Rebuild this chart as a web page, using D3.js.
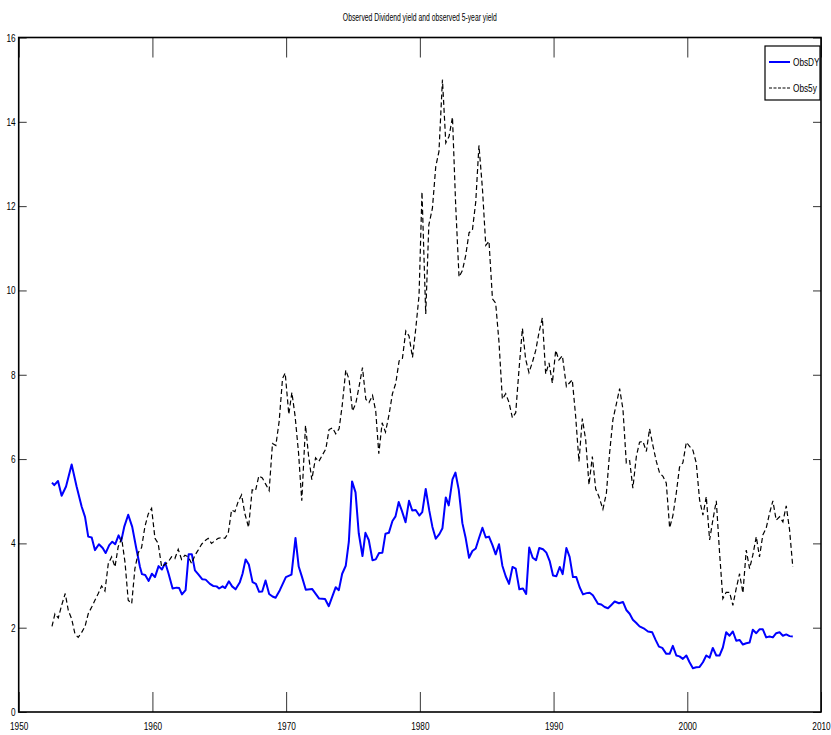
<!DOCTYPE html>
<html>
<head>
<meta charset="utf-8">
<script src="https://cdn.jsdelivr.net/npm/d3@7"></script>
<style>
  html, body { margin: 0; padding: 0; background: #fff; }
  svg { display: block; font-family: "Liberation Sans", Arial, sans-serif; }
</style>
</head>
<body>
<div id="chart"></div>
<script>
// Observed dividend yield vs observed 5-year yield (quarterly)

const dyYears = [
  1952.49, 1952.66, 1952.94, 1953.21, 1953.54, 1953.96, 1954.33, 1954.71, 1954.96, 1955.20,
  1955.46, 1955.70, 1956.00, 1956.28, 1956.50, 1956.77, 1957.00, 1957.22, 1957.47, 1957.67,
  1957.89, 1958.19, 1958.49, 1958.77, 1959.07, 1959.22, 1959.46, 1959.72, 1959.96, 1960.19,
  1960.46, 1960.71, 1960.96, 1961.21, 1961.51, 1961.81, 1962.00, 1962.21, 1962.48, 1962.71,
  1962.95, 1963.18, 1963.42, 1963.72, 1963.98, 1964.30, 1964.54, 1964.80, 1964.99, 1965.25,
  1965.44, 1965.72, 1965.96, 1966.22, 1966.54, 1966.74, 1966.97, 1967.21, 1967.49, 1967.74,
  1967.98, 1968.21, 1968.46, 1968.73, 1968.98, 1969.21, 1969.53, 1969.98, 1970.40, 1970.70,
  1970.94, 1971.19, 1971.47, 1971.94, 1972.47, 1972.91, 1973.19, 1973.71, 1973.94, 1974.19,
  1974.46, 1974.69, 1974.93, 1975.19, 1975.43, 1975.71, 1975.93, 1976.18, 1976.46, 1976.70,
  1976.95, 1977.20, 1977.43, 1977.68, 1977.95, 1978.18, 1978.42, 1978.67, 1978.93, 1979.19,
  1979.43, 1979.69, 1979.96, 1980.18, 1980.44, 1980.71, 1980.94, 1981.19, 1981.46, 1981.69,
  1981.94, 1982.16, 1982.44, 1982.66, 1982.91, 1983.18, 1983.43, 1983.68, 1983.93, 1984.18,
  1984.42, 1984.68, 1984.93, 1985.17, 1985.43, 1985.67, 1985.92, 1986.17, 1986.42, 1986.67,
  1986.93, 1987.17, 1987.44, 1987.71, 1987.95, 1988.18, 1988.44, 1988.69, 1988.93, 1989.21,
  1989.46, 1989.71, 1989.96, 1990.21, 1990.46, 1990.68, 1990.96, 1991.20, 1991.45, 1991.70,
  1991.95, 1992.20, 1992.47, 1992.70, 1992.94, 1993.32, 1993.57, 1993.82, 1994.07, 1994.32,
  1994.57, 1994.89, 1995.19, 1995.44, 1995.69, 1995.93, 1996.19, 1996.43, 1996.81, 1997.06,
  1997.38, 1997.63, 1997.88, 1998.13, 1998.43, 1998.68, 1998.92, 1999.18, 1999.42, 1999.67,
  1999.93, 2000.17, 2000.42, 2000.67, 2000.92, 2001.17, 2001.42, 2001.67, 2001.91, 2002.17,
  2002.41, 2002.66, 2002.91, 2003.16, 2003.41, 2003.66, 2003.91, 2004.16, 2004.41, 2004.66,
  2004.90, 2005.16, 2005.40, 2005.65, 2005.90, 2006.15, 2006.40, 2006.65, 2006.90, 2007.15,
  2007.40, 2007.65, 2007.89
];
const dyValues = [
  5.44, 5.38, 5.48, 5.13, 5.35, 5.87, 5.35, 4.87, 4.63, 4.16,
  4.14, 3.84, 3.98, 3.89, 3.77, 3.96, 4.04, 3.98, 4.19, 4.06,
  4.39, 4.68, 4.39, 3.92, 3.44, 3.27, 3.25, 3.11, 3.28, 3.20,
  3.46, 3.38, 3.54, 3.28, 2.93, 2.95, 2.94, 2.79, 2.89, 3.74,
  3.74, 3.36, 3.27, 3.15, 3.14, 3.04, 2.99, 2.98, 2.93, 2.98,
  2.94, 3.10, 2.98, 2.91, 3.08, 3.28, 3.62, 3.50, 3.08, 3.04,
  2.85, 2.86, 3.12, 2.80, 2.74, 2.71, 2.89, 3.20, 3.26, 4.13,
  3.45, 3.20, 2.90, 2.92, 2.69, 2.68, 2.51, 2.96, 2.89, 3.28,
  3.47, 4.04, 5.47, 5.21, 4.24, 3.70, 4.25, 4.08, 3.60, 3.62,
  3.77, 3.78, 4.23, 4.25, 4.53, 4.64, 4.98, 4.76, 4.50, 5.01,
  4.78, 4.79, 4.66, 4.74, 5.29, 4.77, 4.39, 4.11, 4.22, 4.36,
  5.09, 4.90, 5.52, 5.68, 5.27, 4.48, 4.12, 3.66, 3.82, 3.88,
  4.12, 4.37, 4.14, 4.16, 3.96, 3.74, 3.98, 3.47, 3.22, 3.04,
  3.44, 3.40, 2.91, 2.93, 2.80, 3.90, 3.66, 3.60, 3.89, 3.86,
  3.78, 3.58, 3.24, 3.22, 3.44, 3.27, 3.89, 3.68, 3.20, 3.20,
  2.96, 2.79, 2.82, 2.83, 2.77, 2.57, 2.55, 2.49, 2.46, 2.54,
  2.62, 2.58, 2.61, 2.42, 2.33, 2.19, 2.11, 2.03, 1.97, 1.91,
  1.89, 1.71, 1.55, 1.52, 1.38, 1.38, 1.57, 1.34, 1.32, 1.26,
  1.34, 1.18, 1.04, 1.06, 1.07, 1.18, 1.34, 1.29, 1.52, 1.34,
  1.34, 1.53, 1.89, 1.81, 1.91, 1.69, 1.71, 1.60, 1.63, 1.65,
  1.95, 1.87, 1.96, 1.96, 1.77, 1.79, 1.77, 1.87, 1.89, 1.81,
  1.84, 1.80, 1.79
];

const y5Years = [
  1952.49, 1952.71, 1952.96, 1953.21, 1953.48, 1953.71, 1953.96, 1954.21, 1954.45, 1954.71,
  1954.96, 1955.20, 1955.46, 1955.70, 1955.95, 1956.20, 1956.45, 1956.70, 1956.95, 1957.20,
  1957.44, 1957.70, 1957.95, 1958.19, 1958.45, 1958.69, 1958.94, 1959.19, 1959.44, 1959.69,
  1959.94, 1960.19, 1960.43, 1960.69, 1960.93, 1961.18, 1961.43, 1961.68, 1961.93, 1962.18,
  1962.43, 1962.68, 1962.93, 1963.18, 1963.42, 1963.68, 1963.92, 1964.17, 1964.42, 1964.67,
  1964.92, 1965.17, 1965.42, 1965.67, 1965.92, 1966.17, 1966.41, 1966.67, 1966.91, 1967.19,
  1967.46, 1967.71, 1967.96, 1968.22, 1968.48, 1968.73, 1968.98, 1969.23, 1969.48, 1969.73,
  1969.93, 1970.20, 1970.43, 1970.67, 1970.93, 1971.17, 1971.45, 1971.67, 1971.92, 1972.20,
  1972.44, 1972.72, 1972.97, 1973.21, 1973.47, 1973.71, 1973.96, 1974.19, 1974.46, 1974.71,
  1974.96, 1975.21, 1975.46, 1975.71, 1975.96, 1976.20, 1976.46, 1976.70, 1976.93, 1977.18,
  1977.43, 1977.70, 1977.95, 1978.20, 1978.45, 1978.69, 1978.95, 1979.19, 1979.45, 1979.69,
  1979.94, 1980.16, 1980.44, 1980.67, 1980.94, 1981.19, 1981.43, 1981.69, 1981.94, 1982.18,
  1982.44, 1982.68, 1982.93, 1983.18, 1983.43, 1983.68, 1983.93, 1984.18, 1984.42, 1984.68,
  1984.93, 1985.17, 1985.43, 1985.67, 1985.92, 1986.17, 1986.42, 1986.67, 1986.92, 1987.17,
  1987.41, 1987.67, 1987.91, 1988.16, 1988.42, 1988.66, 1988.91, 1989.16, 1989.41, 1989.66,
  1989.91, 1990.16, 1990.40, 1990.66, 1990.96, 1991.20, 1991.40, 1991.65, 1991.90, 1992.15,
  1992.40, 1992.65, 1992.90, 1993.15, 1993.39, 1993.69, 1993.95, 1994.19, 1994.44, 1994.69,
  1994.94, 1995.19, 1995.44, 1995.69, 1995.93, 1996.19, 1996.43, 1996.68, 1996.94, 1997.18,
  1997.43, 1997.68, 1997.93, 1998.18, 1998.43, 1998.68, 1998.92, 1999.18, 1999.42, 1999.67,
  1999.93, 2000.17, 2000.42, 2000.67, 2000.92, 2001.17, 2001.42, 2001.67, 2001.91, 2002.17,
  2002.41, 2002.66, 2002.91, 2003.16, 2003.41, 2003.66, 2003.91, 2004.16, 2004.41, 2004.66,
  2004.90, 2005.16, 2005.40, 2005.65, 2005.90, 2006.15, 2006.40, 2006.65, 2006.90, 2007.15,
  2007.40, 2007.65, 2007.89
];
const y5Values = [
  2.03, 2.33, 2.23, 2.53, 2.81, 2.41, 2.21, 1.85, 1.77, 1.89,
  2.03, 2.33, 2.49, 2.65, 2.81, 2.99, 2.87, 3.52, 3.68, 3.44,
  3.92, 4.12, 3.55, 2.65, 2.57, 3.40, 3.78, 3.90, 4.40, 4.70,
  4.83, 4.12, 4.00, 3.44, 3.50, 3.56, 3.68, 3.64, 3.86, 3.62,
  3.72, 3.68, 3.52, 3.72, 3.84, 3.98, 4.06, 4.12, 4.00, 4.06,
  4.12, 4.14, 4.12, 4.24, 4.79, 4.75, 4.99, 5.15, 4.71, 4.38,
  5.27, 5.25, 5.60, 5.55, 5.40, 5.25, 6.37, 6.32, 6.90, 7.91,
  8.04, 7.06, 7.58, 7.02, 6.14, 5.01, 6.80, 6.10, 5.51, 6.03,
  5.94, 6.10, 6.24, 6.70, 6.74, 6.60, 6.72, 7.26, 8.11, 7.89,
  7.14, 7.32, 7.73, 8.17, 7.42, 7.34, 7.51, 7.14, 6.13, 6.86,
  6.64, 7.06, 7.55, 7.80, 8.33, 8.37, 9.04, 8.92, 8.41, 9.08,
  9.88, 12.34, 9.44, 11.55, 11.95, 12.94, 13.30, 15.00, 13.50, 13.65,
  14.11, 12.02, 10.32, 10.47, 10.83, 11.37, 11.43, 12.10, 13.44, 12.42,
  11.07, 11.17, 9.80, 9.70, 8.77, 7.42, 7.55, 7.34, 6.98, 7.10,
  8.10, 9.10, 8.37, 8.05, 8.30, 8.57, 9.00, 9.35, 8.02, 8.28,
  7.80, 8.58, 8.35, 8.45, 7.72, 7.81, 7.88, 7.02, 5.94, 6.96,
  6.46, 5.39, 6.06, 5.29, 5.11, 4.81, 5.19, 6.14, 6.94, 7.30,
  7.67, 7.18, 5.91, 5.96, 5.31, 6.06, 6.40, 6.42, 6.18, 6.72,
  6.32, 5.95, 5.67, 5.59, 5.43, 4.37, 4.65, 5.20, 5.81, 5.91,
  6.40, 6.30, 6.21, 5.91, 5.03, 4.67, 5.11, 4.08, 4.55, 5.01,
  3.80, 2.69, 2.84, 2.84, 2.53, 2.93, 3.28, 2.82, 3.84, 3.40,
  3.72, 4.16, 3.68, 4.20, 4.36, 4.71, 5.01, 4.55, 4.63, 4.51,
  4.89, 4.32, 3.44
];

const xTicks = [1950, 1960, 1970, 1980, 1990, 2000, 2010];
const yTicks = [0, 2, 4, 6, 8, 10, 12, 14, 16];
const seriesNames = ["ObsDY", "Obs5y"];
const chartTitle = "Observed Dividend yield and observed 5-year yield";

const width = 831, height = 735;
const plotLeft = 18.7, plotRight = 821, plotTop = 37.5, plotBottom = 712;

const svg = d3.select("#chart").append("svg")
    .attr("width", width)
    .attr("height", height);

svg.append("rect").attr("width", width).attr("height", height).attr("fill", "#fff");

const x = d3.scaleLinear().domain([1950, 2010]).range([plotLeft, plotRight]);
const y = d3.scaleLinear().domain([0, 16]).range([plotBottom, plotTop]);

// squeeze text horizontally like the stretched original
const squeeze = "scale(0.75,1)";

// bottom axis (ticks pointing inward)
const xb = svg.append("g")
    .attr("transform", `translate(0,${plotBottom})`)
    .call(d3.axisBottom(x).tickValues(xTicks).tickFormat(d3.format("d"))
        .tickSizeInner(-20).tickSizeOuter(0).tickPadding(10));
xb.selectAll("text").attr("font-size", 11).attr("fill", "#000").attr("transform", squeeze);

// top axis, ticks only
svg.append("g")
    .attr("transform", `translate(0,${plotTop})`)
    .call(d3.axisTop(x).tickValues(xTicks).tickFormat("")
        .tickSizeInner(-20).tickSizeOuter(0));

// left axis
const yl = svg.append("g")
    .attr("transform", `translate(${plotLeft},0)`)
    .call(d3.axisLeft(y).tickValues(yTicks).tickFormat(d3.format("d"))
        .tickSizeInner(-8).tickSizeOuter(0).tickPadding(4));
yl.selectAll("text").attr("font-size", 11).attr("fill", "#000").attr("transform", squeeze);

// right axis, ticks only
svg.append("g")
    .attr("transform", `translate(${plotRight},0)`)
    .call(d3.axisRight(y).tickValues(yTicks).tickFormat("")
        .tickSizeInner(-8).tickSizeOuter(0));

svg.selectAll(".domain").remove();
svg.selectAll(".tick line").attr("stroke", "#000").attr("stroke-width", 0.8);

// plot box
svg.append("rect")
    .attr("x", plotLeft).attr("y", plotTop)
    .attr("width", plotRight - plotLeft).attr("height", plotBottom - plotTop)
    .attr("fill", "none")
    .attr("stroke", "#000")
    .attr("stroke-width", 1.6);

const line = d3.line()
    .x(d => x(d[0]))
    .y(d => y(d[1]));

const dyData = dyYears.map((yr, i) => [yr, dyValues[i]]);
const y5Data = y5Years.map((yr, i) => [yr, y5Values[i]]);

svg.append("path")
    .datum(dyData)
    .attr("d", line)
    .attr("fill", "none")
    .attr("stroke", "#0000ff")
    .attr("stroke-width", 2)
    .attr("stroke-linejoin", "round");

svg.append("path")
    .datum(y5Data)
    .attr("d", line)
    .attr("fill", "none")
    .attr("stroke", "#000")
    .attr("stroke-width", 1.2)
    .attr("stroke-dasharray", "5,3");

// title
svg.append("text")
    .attr("x", (plotLeft + plotRight) / 2)
    .attr("y", 21)
    .attr("text-anchor", "middle")
    .attr("font-size", 10)
    .attr("textLength", 154)
    .attr("lengthAdjust", "spacingAndGlyphs")
    .text(chartTitle);

// legend
const lg = svg.append("g").attr("transform", "translate(765,46)");
lg.append("rect")
    .attr("width", 55).attr("height", 54)
    .attr("fill", "#fff").attr("stroke", "#000").attr("stroke-width", 1.2);

const legendStyles = [
    { color: "#0000ff", width: 2, dash: null },
    { color: "#000", width: 1.2, dash: "3,1.5" }
];
seriesNames.forEach((name, i) => {
    const ly = 16 + i * 26;
    lg.append("line")
        .attr("x1", 4).attr("x2", 25)
        .attr("y1", ly).attr("y2", ly)
        .attr("stroke", legendStyles[i].color)
        .attr("stroke-width", legendStyles[i].width)
        .attr("stroke-dasharray", legendStyles[i].dash);
    lg.append("text")
        .attr("transform", `translate(28,${ly + 4}) ${squeeze}`)
        .attr("font-size", 11)
        .text(name);
});
</script>
</body>
</html>
